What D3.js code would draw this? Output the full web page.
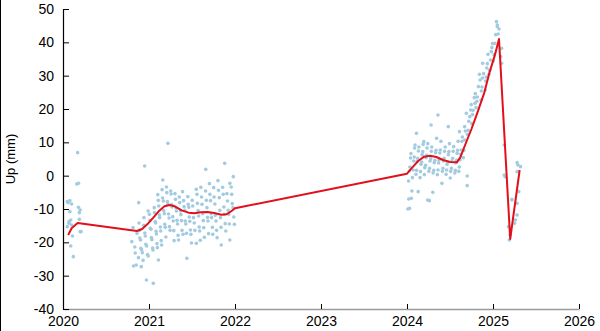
<!DOCTYPE html>
<html>
<head>
<meta charset="utf-8">
<script src="https://cdn.jsdelivr.net/npm/d3@7"></script>
<style>
  body { margin: 0; background: #fff; }
  svg { display: block; font-family: "Liberation Sans", Arial, sans-serif; }
</style>
</head>
<body>
<div id="chart"></div>
<script>
// daily "Up" displacement (decimal year, mm)
const obs2020 = [
  [2020.17, 6.9], [2020.18, -2.3], [2020.08, -7.5], [2020.06, -8.1], [2020.10, -8.5],
  [2020.18, -9.5], [2020.20, -10.3], [2020.19, -11.1], [2020.08, -10.8], [2020.09, -13.3],
  [2020.07, -13.8], [2020.10, -14.8], [2020.05, -15.3], [2020.19, -13.1], [2020.20, -16.8],
  [2020.11, -18.1], [2020.09, -21.1], [2020.12, -24.3], [2020.05, -7.8], [2020.21, -16.8],
  [2020.07, -14.3], [2020.16, -2.5]
]

const obs2021 = [
  [2020.80, -19.8], [2020.815, -15.6], [2020.82, -27.1], [2020.835, -21.4], [2020.84, -23.2], [2020.852, -26.8], [2020.861, -17.3], [2020.878, -24.6], [2020.88, -8.1],
  [2020.884, -14.2], [2020.889, -16.4], [2020.893, -18.7], [2020.902, -19.3], [2020.905, -21.8], [2020.914, -22.2], [2020.91, -27.3], [2020.922, -23.1], [2020.931, -25.4],
  [2020.941, -12.6], [2020.938, -14.9], [2020.951, -17.2], [2020.95, 2.9], [2020.957, -18.1], [2020.963, -20.6], [2020.972, -21.1], [2020.97, -31.3], [2020.983, -23.7], [2020.991, -24.1], [2020.99, -10.6],
  [2021.004, -11.6], [2021.011, -13.4], [2021.014, -15.8], [2021.023, -16.1], [2021.028, -18.6], [2021.034, -19.2], [2021.042, -21.7], [2021.046, -22.3], [2021.05, -32.3],
  [2021.061, -9.6], [2021.064, -11.1], [2021.072, -13.8], [2021.077, -14.2], [2021.083, -16.7], [2021.086, -17.5], [2021.093, -20.4], [2021.097, -21.6], [2021.11, -25.3],
  [2021.102, -5.7], [2021.108, -7.4], [2021.113, -9.1], [2021.121, -11.8], [2021.124, -12.6], [2021.132, -15.4], [2021.136, -16.6], [2021.142, -19.5], [2021.147, -20.8], [2021.16, -1.3],
  [2021.152, -4.2], [2021.158, -6.7], [2021.167, -7.6], [2021.171, -10.5], [2021.178, -11.4], [2021.183, -14.6], [2021.189, -15.5], [2021.196, -18.4],
  [2021.22, 9.7], [2021.203, -3.4], [2021.207, -5.1], [2021.214, -7.8], [2021.219, -8.6], [2021.227, -11.5], [2021.233, -12.7], [2021.238, -15.3], [2021.245, -16.4],
  [2021.252, -4.6], [2021.257, -5.5], [2021.264, -8.7], [2021.268, -9.4], [2021.276, -12.3], [2021.281, -13.6], [2021.288, -16.5], [2021.292, -19.5],
  [2021.302, -5.4], [2021.308, -7.1], [2021.313, -9.7], [2021.319, -10.6], [2021.326, -13.4], [2021.332, -14.5], [2021.338, -17.9], [2021.344, -19.3],
  [2021.352, -6.4], [2021.357, -8.1], [2021.366, -10.6], [2021.371, -11.7], [2021.377, -13.5], [2021.384, -16.4], [2021.39, -4.8], [2021.396, -17.6],
  [2021.402, -7.5], [2021.408, -9.3], [2021.416, -10.4], [2021.421, -13.6], [2021.428, -14.5], [2021.436, -17.3], [2021.44, -24.8],
  [2021.451, -6.3], [2021.456, -8.6], [2021.463, -9.5], [2021.468, -12.4], [2021.474, -13.7], [2021.482, -16.3], [2021.487, -17.6], [2021.494, -20.2],
  [2021.503, -7.4], [2021.509, -9.1], [2021.517, -12.6], [2021.526, -14.2], [2021.534, -16.4], [2021.55, -4.1], [2021.55, -20.3],
  [2021.558, -5.6], [2021.562, -8.3], [2021.571, -10.5], [2021.577, -12.1], [2021.583, -15.4], [2021.589, -16.6], [2021.596, -19.4],
  [2021.603, -3.5], [2021.611, -6.4], [2021.616, -8.6], [2021.624, -11.4], [2021.632, -13.5], [2021.637, -15.6], [2021.644, -18.5],
  [2021.66, 1.9], [2021.658, -4.6], [2021.667, -7.4], [2021.674, -9.6], [2021.681, -12.5], [2021.686, -13.6], [2021.693, -17.4],
  [2021.703, -2.4], [2021.708, -5.6], [2021.716, -7.5], [2021.722, -11.4], [2021.728, -12.6], [2021.737, -15.5], [2021.742, -17.6],
  [2021.752, -3.6], [2021.757, -6.4], [2021.766, -8.5], [2021.771, -11.9], [2021.779, -13.6], [2021.786, -16.4], [2021.792, -18.6],
  [2021.802, -1.5], [2021.808, -4.4], [2021.817, -6.6], [2021.823, -10.4], [2021.831, -12.6], [2021.838, -15.5], [2021.84, -20.8],
  [2021.88, 3.7], [2021.856, -3.5], [2021.863, -5.6], [2021.871, -9.4], [2021.877, -11.6], [2021.886, -14.4], [2021.893, -16.6],
  [2021.94, -2.3], [2021.906, -5.4], [2021.913, -7.6], [2021.921, -10.4], [2021.927, -11.6], [2021.934, -14.5], [2021.94, -19.3],
  [2021.98, -0.3], [2021.956, -3.4], [2021.962, -5.6], [2021.968, -8.4], [2021.977, -9.6], [2021.986, -12.4], [2021.993, -14.6]
]

const obs2024 = [
  [2024.01, -10], [2024.02, -7], [2024.05, -6.8], [2024.018, -1.6], [2024.027, 1.4], [2024.033, 2.6], [2024.041, 5.3], [2024.046, 6.6],
  [2024.03, -9.8], [2024.057, -4.6], [2024.063, -0.6], [2024.071, 1.7], [2024.077, 4.4], [2024.084, 5.6], [2024.088, 8.3], [2024.094, 9.2],
  [2024.13, -4.8], [2024.104, 0.4], [2024.111, 1.6], [2024.118, 4.3], [2024.124, 5.2], [2024.132, 7.4], [2024.138, 8.6], [2024.11, 12.7],
  [2024.152, -0.6], [2024.157, 1.2], [2024.163, 3.4], [2024.171, 4.1], [2024.176, 6.3], [2024.183, 7.2], [2024.188, 9.4], [2024.196, 10.2],
  [2024.24, -7.3], [2024.202, 0.3], [2024.207, 2.4], [2024.216, 3.1], [2024.221, 5.4], [2024.228, 6.1], [2024.233, 8.3], [2024.242, 9.6],
  [2024.26, -7.5], [2024.254, 1.3], [2024.262, 2.2], [2024.268, 4.4], [2024.276, 5.1], [2024.283, 7.3], [2024.288, 8.6], [2024.28, 15.2],
  [2024.30, -5], [2024.304, 0.8], [2024.311, 1.6], [2024.317, 3.9], [2024.324, 4.6], [2024.332, 6.9], [2024.338, 7.6], [2024.344, 11.2],
  [2024.36, 18.2], [2024.353, 0.3], [2024.361, 1.7], [2024.367, 3.8], [2024.373, 4.7], [2024.381, 6.8], [2024.387, 7.7], [2024.394, 10.3],
  [2024.406, -2.3], [2024.412, 1.3], [2024.418, 2.2], [2024.424, 4.4], [2024.431, 5.2], [2024.437, 7.3], [2024.444, 8.6],
  [2024.48, 14.7], [2024.455, 0.4], [2024.461, 1.7], [2024.466, 3.4], [2024.472, 4.1], [2024.481, 6.3], [2024.487, 7.2], [2024.494, 9.6],
  [2024.503, -0.7], [2024.508, 1.3], [2024.516, 2.2], [2024.522, 4.4], [2024.531, 5.2], [2024.537, 7.3], [2024.543, 8.7],
  [2024.61, 13.2], [2024.556, 0.8], [2024.562, 1.6], [2024.568, 3.8], [2024.576, 4.6], [2024.583, 6.7], [2024.588, 7.6], [2024.594, 10.3],
  [2024.602, 1.3], [2024.608, 2.6], [2024.617, 4.8], [2024.623, 6.4], [2024.631, 7.7], [2024.638, 10.3], [2024.644, 11.6],
  [2024.70, -3], [2024.70, -0.1], [2024.655, 5.4], [2024.662, 7.6], [2024.671, 10.7], [2024.678, 13.4], [2024.67, 14.7], [2024.69, 18.7],
  [2024.703, 12.4], [2024.712, 13.6], [2024.718, 16.3], [2024.73, 17.7], [2024.74, 19.7], [2024.746, 21.3],
  [2024.753, 15.6], [2024.762, 18.3], [2024.768, 19.6], [2024.79, 21.7], [2024.782, 23.4], [2024.794, 24.6],
  [2024.803, 20.4], [2024.812, 22.3], [2024.818, 23.6], [2024.83, 26.7], [2024.85, 28.7], [2024.842, 30.4],
  [2024.86, 22.7], [2024.864, 25.4], [2024.872, 26.6], [2024.878, 29.3], [2024.891, 30.6], [2024.88, 33.7],
  [2024.91, 25.7], [2024.914, 28.4], [2024.921, 29.6], [2024.928, 32.3], [2024.934, 33.6], [2024.942, 36.4],
  [2024.953, 30.4], [2024.961, 31.6], [2024.97, 34.7], [2024.98, 37.2], [2024.987, 38.4], [2024.993, 39.6],
  [2025.003, 34.4], [2025.012, 36.3], [2025.02, 39.7], [2025.031, 42.3], [2025.05, 44.7], [2025.05, 45.2], [2025.04, 46.2],
  [2025.10, 33.7], [2025.09, 35.7], [2025.10, 38.2], [2025.06, 42.5], [2025.07, 44]
]

const obs2025 = [
  [2025.13, 9.2], [2025.13, 0.2], [2025.14, -0.3], [2025.28, 3.9], [2025.32, 2.7], [2025.28, 1.2],
  [2025.29, 3.2], [2025.30, -4.8], [2025.22, -7.1], [2025.22, -7.3], [2025.28, -8.3], [2025.28, -11.8],
  [2025.26, -13.3], [2025.25, -14.3], [2025.18, -15.3], [2025.19, -19.3], [2025.20, -17.8]
]

// red trend line
const trendYear = [
  2020.06, 2020.10, 2020.17, 2020.86, 2020.92, 2020.98, 2021.05, 2021.12, 2021.18, 2021.24,
  2021.30, 2021.38, 2021.46, 2021.53, 2021.60, 2021.68, 2021.76, 2021.84, 2021.90, 2021.96,
  2022.00, 2024.00, 2024.06, 2024.13, 2024.20, 2024.27, 2024.34, 2024.42, 2024.50, 2024.58,
  2024.62, 2024.68, 2024.75, 2024.82, 2024.90, 2024.96, 2025.02, 2025.07, 2025.20, 2025.31
]
const trendUp = [
  -17.8, -15.8, -14.2, -16.6, -16.0, -14.6, -12.6, -10.5, -9.2, -8.8,
  -9.2, -10.4, -11.1, -11.3, -11.0, -10.9, -11.2, -11.7, -11.6, -10.6,
  -9.8, 0.6, 2.4, 4.4, 5.7, 6.0, 5.6, 4.7, 4.1, 4.0,
  5.5, 9.5, 14.0, 19.0, 25.0, 31.0, 36.0, 41.0, -19.0, 1.7
]

const xTicks = [2020, 2021, 2022, 2023, 2024, 2025, 2026]
const yTicks = [-40, -30, -20, -10, 0, 10, 20, 30, 40, 50]

const width = 600
const height = 331
const marginTop = 9
const marginRight = 21
const marginBottom = 22
const marginLeft = 63

const svg = d3.select('#chart')
              .append('svg')
              .attr('width', width)
              .attr('height', height)

const x = d3.scaleLinear()
            .domain([2020, 2026])
            .range([marginLeft, width - marginRight])

const y = d3.scaleLinear()
            .domain([-40, 50])
            .range([height - marginBottom, marginTop])

// thin frame line on the left edge
svg.append('line')
   .attr('x1', 0.5).attr('x2', 0.5)
   .attr('y1', 0).attr('y2', height)
   .attr('stroke', '#000')

const points = [...obs2020, ...obs2021, ...obs2024, ...obs2025]

svg.append('g')
   .selectAll('circle')
   .data(points)
   .enter().append('circle')
   .attr('cx', d => x(d[0]))
   .attr('cy', d => y(d[1]))
   .attr('r', 1.8)
   .attr('fill', '#a3cbe0')

const trend = trendYear.map((yr, i) => [yr, trendUp[i]])

svg.append('path')
   .datum(trend)
   .attr('fill', 'none')
   .attr('stroke', '#e3101b')
   .attr('stroke-width', 2)
   .attr('stroke-linejoin', 'round')
   .attr('d', d3.line().x(d => x(d[0])).y(d => y(d[1])))

// x axis
const xAxis = svg.append('g')
   .attr('transform', `translate(0, ${height - marginBottom})`)
   .call(d3.axisBottom(x).tickValues(xTicks).tickFormat(d => String(d))
           .tickSize(-5).tickSizeOuter(0).tickPadding(7))
xAxis.select('.domain').attr('stroke', '#9a9a9a').attr('stroke-width', 1.5)
xAxis.selectAll('.tick line').attr('stroke', '#000')
xAxis.selectAll('text').attr('font-size', 14).attr('fill', '#000')

// y axis, plain hyphen for negatives like the reference
const yAxis = svg.append('g')
   .attr('transform', `translate(${marginLeft}, 0)`)
   .call(d3.axisLeft(y).tickValues(yTicks).tickFormat(d => String(d))
           .tickSize(-6).tickSizeOuter(0).tickPadding(9))
yAxis.select('.domain').attr('stroke', '#000').attr('stroke-width', 1.2)
yAxis.selectAll('.tick line').attr('stroke', '#000')
yAxis.selectAll('text').attr('font-size', 14).attr('fill', '#000')

svg.append('text')
   .attr('transform', `translate(15, ${(marginTop + height - marginBottom) / 2}) rotate(-90)`)
   .attr('text-anchor', 'middle')
   .attr('font-size', 13)
   .attr('fill', '#000')
   .text('Up (mm)')
</script>
</body>
</html>
